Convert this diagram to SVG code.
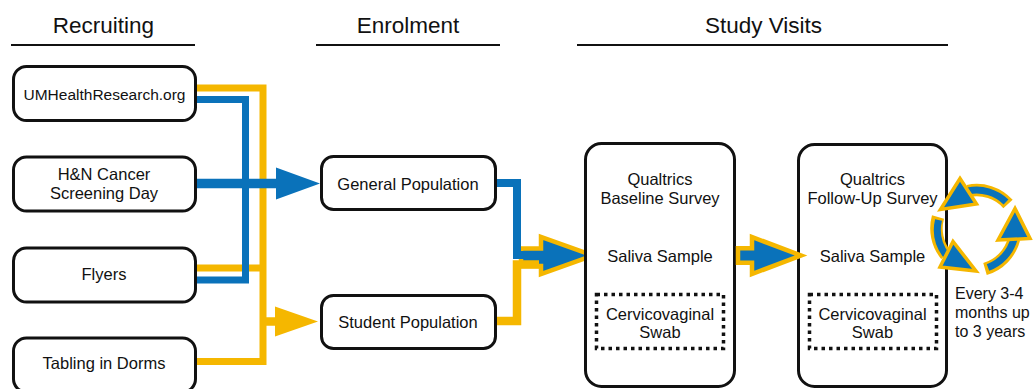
<svg xmlns="http://www.w3.org/2000/svg" width="1033" height="389" viewBox="0 0 1033 389">
<style>
  text { font-family: "Liberation Sans", Arial, Helvetica, sans-serif; fill: #111; }
  .hdr { font-size: 22.5px; text-anchor: middle; }
  .hline { stroke: #111; stroke-width: 2; }
  .box { fill: #fff; stroke: #111; stroke-width: 3; }
  .lbl { font-size: 16.5px; text-anchor: middle; }
  .dot { fill: none; stroke: #111; stroke-width: 3.5; stroke-dasharray: 3.5 4; }
  .y { fill: none; stroke: #F5B700; }
  .b { fill: none; stroke: #0A72BA; }
  .yfill { fill: #F5B700; }
  .bfill { fill: #0A72BA; }
  .blk { fill: #0A72BA; stroke: #F5B700; stroke-width: 4.5; stroke-linejoin: miter; }
  .cy { fill: none; stroke: #F5B700; stroke-width: 12.5; }
  .cb { fill: none; stroke: #0A72BA; stroke-width: 7; }
  .ch { fill: #0A72BA; stroke: #F5B700; stroke-width: 3.5; stroke-linejoin: miter; }
</style>

<g id="headers">
  <text class="hdr" x="103.5" y="33">Recruiting</text>
  <line class="hline" x1="11" y1="45" x2="195" y2="45"/>
  <text class="hdr" x="408" y="33">Enrolment</text>
  <line class="hline" x1="316" y1="45" x2="500" y2="45"/>
  <text class="hdr" x="763.5" y="33">Study Visits</text>
  <line class="hline" x1="577" y1="45" x2="948" y2="45"/>
</g>

<g id="connectors">
  <!-- yellow recruiting lines -->
  <path class="y" stroke-width="7" d="M197 88 H263 V361.5 H197"/>
  <path class="y" stroke-width="7" d="M197 268 H263"/>
  <path class="y" stroke-width="8.5" d="M263 321.5 H279"/>
  <polygon class="yfill" points="275,306.5 318,321.5 275,336.5"/>
  <!-- blue recruiting lines -->
  <path class="b" stroke-width="7" d="M197 99.5 H245.5 V280 H197"/>
  <path class="b" stroke-width="9.5" d="M197 183.5 H280"/>
  <polygon class="bfill" points="276,167.5 320,183.5 276,199.5"/>
  <!-- enrolment to study -->
  <polygon class="blk" points="521,248.5 541,248.5 541,237 593,255.5 541,274 541,266 521,266"/>
  <path class="b" stroke-width="8" d="M497 183 H517 V255 H539"/>
  <path class="y" stroke-width="8.5" d="M497 321 H517 V264.5 H539"/>
</g>

<g id="n-umhealth">
  <rect class="box" x="13.5" y="66.5" width="182" height="54" rx="13"/>
  <text class="lbl" x="104.5" y="99.5" style="font-size:15.5px">UMHealthResearch.org</text>
</g>
<g id="n-hn">
  <rect class="box" x="13.5" y="157" width="182" height="54" rx="13"/>
  <text class="lbl" x="104" y="180">H&amp;N Cancer</text>
  <text class="lbl" x="104" y="199">Screening Day</text>
</g>
<g id="n-flyers">
  <rect class="box" x="13.5" y="248" width="182" height="54" rx="13"/>
  <text class="lbl" x="104" y="280">Flyers</text>
</g>
<g id="n-tabling">
  <rect class="box" x="13.5" y="338" width="182" height="54" rx="13"/>
  <text class="lbl" x="104" y="369">Tabling in Dorms</text>
</g>

<g id="n-general">
  <rect class="box" x="321.5" y="156.5" width="174" height="53" rx="12"/>
  <text class="lbl" x="408" y="189.5">General Population</text>
</g>
<g id="n-student">
  <rect class="box" x="321.5" y="295.5" width="174" height="53" rx="12"/>
  <text class="lbl" x="408" y="328">Student Population</text>
</g>

<g id="n-baseline">
  <rect class="box" x="585.5" y="143.5" width="149" height="243" rx="16"/>
  <text class="lbl" x="660" y="185">Qualtrics</text>
  <text class="lbl" x="660" y="204">Baseline Survey</text>
  <text class="lbl" x="660" y="262">Saliva Sample</text>
  <rect class="dot" x="596.5" y="294.5" width="127" height="54"/>
  <text class="lbl" x="660" y="320">Cervicovaginal</text>
  <text class="lbl" x="660" y="338">Swab</text>
</g>

<g id="n-followup">
  <rect class="box" x="798.5" y="144.5" width="148" height="242" rx="16"/>
  <text class="lbl" x="872.5" y="185">Qualtrics</text>
  <text class="lbl" x="872.5" y="204">Follow-Up Survey</text>
  <text class="lbl" x="872.5" y="262">Saliva Sample</text>
  <rect class="dot" x="809.5" y="294.5" width="127" height="54"/>
  <text class="lbl" x="872.5" y="320">Cervicovaginal</text>
  <text class="lbl" x="872.5" y="338">Swab</text>
</g>

<g id="connector-visit">
  <polygon class="blk" points="738,248.25 752,248.25 752,237 801,255.5 752,274 752,262.75 738,262.75"/>
</g>

<g id="cycle">
  <path class="cy" d="M1008 204 A42 42 0 0 0 968 191"/>
  <path class="cy" d="M938 217 A42 42 0 0 0 946 255"/>
  <path class="cy" d="M985 269 A42 42 0 0 0 1014 239"/>
  <path class="cb" d="M1006 202 A42 42 0 0 0 968 191"/>
  <path class="cb" d="M938.5 220 A42 42 0 0 0 946 255"/>
  <path class="cb" d="M988 267.5 A42 42 0 0 0 1014 239"/>
  <polygon class="ch" points="960,178.5 976.5,204 940.5,209.5"/>
  <polygon class="ch" points="953,241.5 940,267 976,271"/>
  <polygon class="ch" points="998,240 1030,238.5 1015,208.5"/>
  <text x="955" y="299" style="font-size:16px">Every 3-4</text>
  <text x="955" y="318" style="font-size:16px">months up</text>
  <text x="955" y="337" style="font-size:16px">to 3 years</text>
</g>
</svg>
